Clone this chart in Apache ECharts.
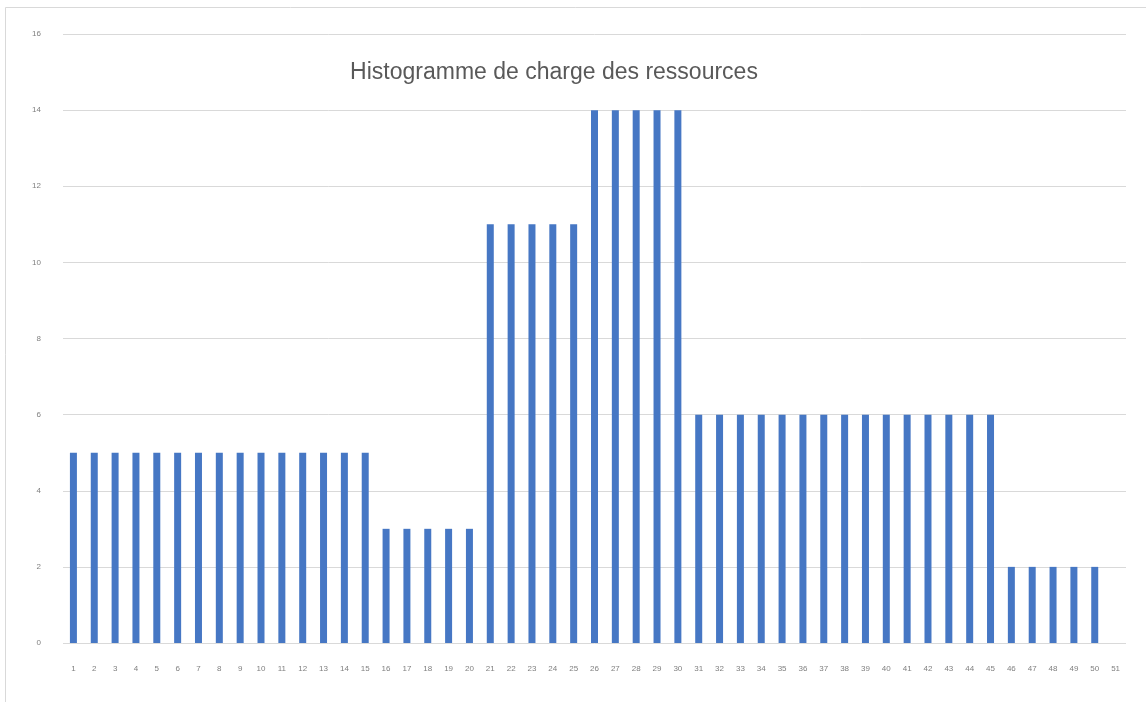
<!DOCTYPE html>
<html>
<head>
<meta charset="utf-8">
<script src="https://cdn.jsdelivr.net/npm/echarts@6/dist/echarts.min.js"></script>
<style>
  html, body { margin: 0; padding: 0; background: #fff; }
  #chart { width: 1146px; height: 702px; }
</style>
</head>
<body>
<div id="chart"></div>
<script>
// periods 1..51
const periods = [];
for (let i = 1; i <= 51; i++) periods.push(String(i));

// resource load per period
const charge = [
  5, 5, 5, 5, 5, 5, 5, 5, 5, 5, 5, 5, 5, 5, 5,
  3, 3, 3, 3, 3,
  11, 11, 11, 11, 11,
  14, 14, 14, 14, 14,
  6, 6, 6, 6, 6, 6, 6, 6, 6, 6, 6, 6, 6, 6, 6,
  2, 2, 2, 2, 2,
  0
];

const yTicks = [0, 2, 4, 6, 8, 10, 12, 14, 16];

let chart = echarts.init(document.getElementById("chart"));

let option = {
  backgroundColor: "#fff",
  animation: false,
  title: {
    text: "Histogramme de charge des ressources",
    left: 549,
    top: 56,
    textAlign: "center",
    textStyle: {
      fontFamily: "Liberation Sans",
      fontSize: 23,
      fontWeight: "normal",
      color: "#595959",
    },
  },
  graphic: [
    // thin frame, top and left edges only
    {
      type: "polyline",
      shape: { points: [[5.5, 702], [5.5, 7.5], [1146, 7.5]] },
      style: { fill: "none", stroke: "#d9d9d9", lineWidth: 1 },
      silent: true,
    },
  ],
  grid: { left: 63, right: 20, top: 34, bottom: 59 },
  xAxis: {
    type: "category",
    data: periods,
    axisLine: { show: false },
    axisTick: { show: false },
    axisLabel: {
      interval: 0,
      fontSize: 8,
      color: "#7f7f7f",
      margin: 22,
      fontFamily: "Liberation Sans",
    },
  },
  yAxis: {
    type: "value",
    min: yTicks[0],
    max: yTicks[yTicks.length - 1],
    interval: 2,
    axisLine: { show: false },
    axisTick: { show: false },
    axisLabel: {
      fontSize: 8,
      color: "#7f7f7f",
      margin: 22,
      fontFamily: "Liberation Sans",
    },
    splitLine: { lineStyle: { color: "#d9d9d9", width: 1 } },
  },
  series: [
    {
      type: "bar",
      data: charge,
      barWidth: 7,
      itemStyle: { color: "#4677c4" },
    },
  ],
};

chart.setOption(option);
</script>
</body>
</html>
